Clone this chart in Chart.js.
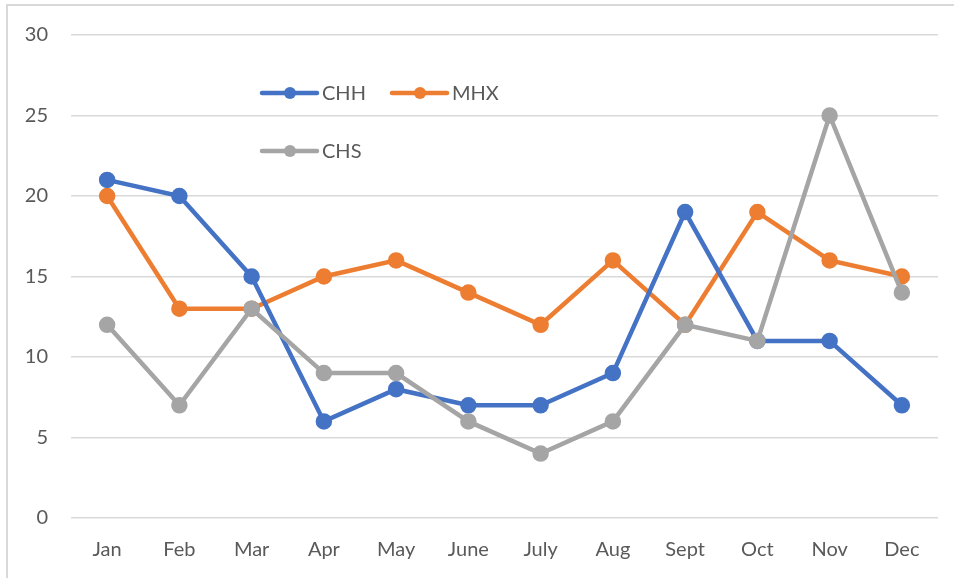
<!DOCTYPE html>
<html>
<head>
<meta charset="utf-8">
<script src="https://cdn.jsdelivr.net/npm/chart.js@4"></script>
<style>
  html, body { margin: 0; padding: 0; background: #fff; overflow: hidden; }
  #wrap { position: relative; width: 954px; height: 578px; }
  #frame { position: absolute; left: 6px; top: 4px; width: 1000px; height: 1000px;
           border: 2px solid #d9d9d9; box-sizing: border-box; }
  canvas { position: absolute; left: 0; top: 0; }
</style>
</head>
<body>
<div id="wrap">
  <div id="frame"></div>
  <canvas id="chart" width="954" height="578"></canvas>
</div>
<script>
// monthly counts per station
const months = ["Jan", "Feb", "Mar", "Apr", "May", "June", "July", "Aug", "Sept", "Oct", "Nov", "Dec"];
const chh = [21, 20, 15, 6, 8, 7, 7, 9, 19, 11, 11, 7];
const mhx = [20, 13, 13, 15, 16, 14, 12, 16, 12, 19, 16, 15];
const chs = [12, 7, 13, 9, 9, 6, 4, 6, 12, 11, 25, 14];
const yTicks = [0, 5, 10, 15, 20, 25, 30];

const fontFamily = "Lato, 'Open Sans', sans-serif";
const textColor = "#595959";

// lowest order is painted last: CHS on top, then CHH, MHX underneath
function series(label, data, color, order) {
  return {
    label: label,
    data: data,
    order: order,
    borderColor: color,
    backgroundColor: color,
    pointBackgroundColor: color,
    pointBorderColor: color,
    borderWidth: 4.5,
    pointRadius: 6,
    pointHoverRadius: 6,
    tension: 0
  };
}

// legend drawn inside the plot, two on the first row and one below
const insideLegend = {
  id: "insideLegend",
  afterDraw(chart) {
    const ctx = chart.ctx;
    const spots = [[262, 93], [392, 93], [262, 151]];
    ctx.save();
    chart.data.datasets.forEach((ds, i) => {
      const [x, y] = spots[i];
      ctx.strokeStyle = ds.borderColor;
      ctx.lineWidth = 4.5;
      ctx.lineCap = "round";
      ctx.beginPath();
      ctx.moveTo(x, y);
      ctx.lineTo(x + 55, y);
      ctx.stroke();
      ctx.fillStyle = ds.borderColor;
      ctx.beginPath();
      ctx.arc(x + 28, y, 6, 0, Math.PI * 2);
      ctx.fill();
      ctx.fillStyle = textColor;
      ctx.font = "20px " + fontFamily;
      ctx.textBaseline = "middle";
      ctx.fillText(ds.label, x + 60, y + 1);
    });
    ctx.restore();
  }
};

new Chart(document.getElementById("chart").getContext("2d"), {
  type: "line",
  data: {
    labels: months,
    datasets: [
      series("CHH", chh, "#4472c4", 1),
      series("MHX", mhx, "#ed7d31", 2),
      series("CHS", chs, "#a5a5a5", 0)
    ]
  },
  options: {
    responsive: false,
    animation: false,
    layout: { padding: { left: 0, right: 16, top: 34, bottom: 0 } },
    plugins: {
      legend: { display: false },
      tooltip: { enabled: false }
    },
    scales: {
      x: {
        offset: true,
        grid: { display: false, drawTicks: false },
        border: { display: false },
        ticks: { color: textColor, font: { family: fontFamily, size: 20 }, padding: 20 },
        afterFit(scale) { scale.height = 60; }
      },
      y: {
        min: 0,
        max: 30,
        afterBuildTicks(scale) { scale.ticks = yTicks.map(v => ({ value: v })); },
        grid: { color: "#d9d9d9", lineWidth: 1.5, drawTicks: false },
        border: { display: false },
        ticks: { color: textColor, font: { family: fontFamily, size: 20 }, padding: 23 },
        afterFit(scale) { scale.width = 71; }
      }
    }
  },
  plugins: [insideLegend]
});
</script>
</body>
</html>
